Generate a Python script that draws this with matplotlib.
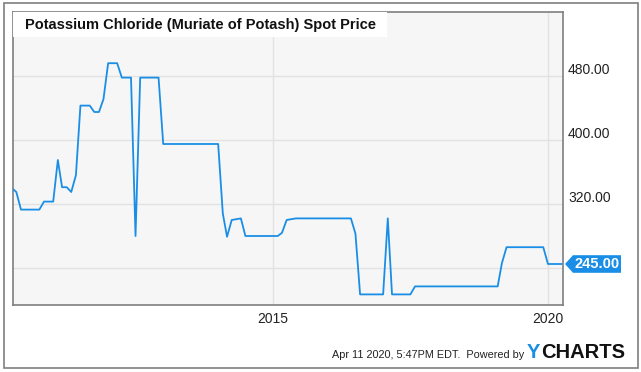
import matplotlib
matplotlib.use("Agg")
import matplotlib.pyplot as plt
from matplotlib.patches import Rectangle, Polygon
import pandas as pd

# monthly spot price, Apr 2010 .. Apr 2020
dates = pd.date_range("2010-04-01", periods=121, freq="MS")
prices = [
    340, 335, 313, 313, 313, 313, 313, 323, 323, 323,
    375, 341, 341, 335, 356, 443, 443, 443, 435, 435,
    451, 496, 496, 496, 478, 478, 478, 280, 478, 478,
    478, 478, 478, 395, 395, 395, 395, 395, 395, 395,
    395, 395, 395, 395, 395, 395, 308, 279, 300, 301,
    302, 280, 280, 280, 280, 280, 280, 280, 280, 284,
    300, 301, 302, 302, 302, 302, 302, 302, 302, 302,
    302, 302, 302, 302, 302, 283, 207, 207, 207, 207,
    207, 207, 302, 207, 207, 207, 207, 207, 217, 217,
    217, 217, 217, 217, 217, 217, 217, 217, 217, 217,
    217, 217, 217, 217, 217, 217, 217, 246, 266, 266,
    266, 266, 266, 266, 266, 266, 266, 245, 245, 245,
    245,
]
ytick_vals = [240, 320, 400, 480]
ytick_labels = ["", "320.00", "400.00", "480.00"]
xtick_dates = ["2015-01-01", "2020-01-01"]
xtick_labels = ["2015", "2020"]
last_label = "245.00"

W, H = 641, 372
LINE = "#1a8ee6"
GRID = "#e2e2e2"
FRAME = "#7f7f7f"

plt.rcParams["font.family"] = ["Liberation Sans", "DejaVu Sans"]

fig = plt.figure(figsize=(W / 100, H / 100), dpi=100)
fig.patch.set_facecolor("white")


def fx(px):
    return px / W


def fy(py):
    return 1 - py / H


# outer border
fig.patches.append(Rectangle((fx(3.5), fy(367.5)), fx(634), 365 / H,
                             transform=fig.transFigure, fill=False,
                             edgecolor=FRAME, linewidth=1.2))

ax = fig.add_axes([fx(13), fy(305), fx(550), (305 - 12) / H])
ax.set_facecolor("#f6f6f6")
ax.plot(dates, prices, color=LINE, linewidth=1.3, zorder=3)

ax.set_ylim(193.75, 560)
ax.set_xlim(pd.Timestamp("2010-04-09"), pd.Timestamp("2020-04-10"))

ax.set_yticks(ytick_vals)
ax.set_yticklabels([])
ax.set_xticks([pd.Timestamp(d) for d in xtick_dates])
ax.set_xticklabels(xtick_labels, fontsize=10, color="#222222")
ax.tick_params(axis="both", length=0, pad=5)
ax.yaxis.tick_right()
ax.grid(True, color=GRID, linewidth=1)
ax.set_axisbelow(True)
for s in ax.spines.values():
    s.set_color(FRAME)
    s.set_linewidth(1.2)

# y labels sit just above their gridlines
for v, lab in zip(ytick_vals, ytick_labels):
    if lab:
        ax.annotate(lab, xy=(1, v), xycoords=("axes fraction", "data"),
                    xytext=(5, 6), textcoords="offset pixels",
                    ha="left", va="center", fontsize=10, color="#222222")

# title box
ax.add_patch(Rectangle((0, 1 - 25 / 293), (387 - 13) / 550, 25 / 293,
                       transform=ax.transAxes, facecolor="white",
                       edgecolor="none", zorder=4))
ax.text(12 / 550, 1 - 13 / 293, "Potassium Chloride (Muriate of Potash) Spot Price",
        transform=ax.transAxes, fontsize=10.55, fontweight="bold",
        ha="left", va="center", color="#111111", zorder=5)

# last value tag
yv = prices[-1]
ty = ax.transData.transform((0, yv))[1] / H
x0, x1 = fx(565), fx(621)
hh = 8.8 / H
fig.patches.append(Polygon([(x0, ty), (x0 + fx(8), ty + hh), (x1, ty + hh),
                            (x1, ty - hh), (x0 + fx(8), ty - hh)],
                           closed=True, transform=fig.transFigure,
                           facecolor=LINE, edgecolor="none"))
fig.text((x0 + fx(8) + x1) / 2, ty, last_label, color="white", fontsize=10.5,
         fontweight="bold", ha="center", va="center")

# footer
fig.text(fx(332), fy(355), "Apr 11 2020, 5:47PM EDT.  Powered by",
         fontsize=7.8, color="#222222", ha="left", va="center")
fig.text(fx(527), fy(352), "Y", fontsize=14.5, fontweight="bold", color="#1a8ee6",
         ha="left", va="center")
fig.text(fx(541), fy(352), "CHARTS", fontsize=14.5, fontweight="bold", color="#111111",
         ha="left", va="center")

fig.savefig("out.png", dpi=100, facecolor="white")
